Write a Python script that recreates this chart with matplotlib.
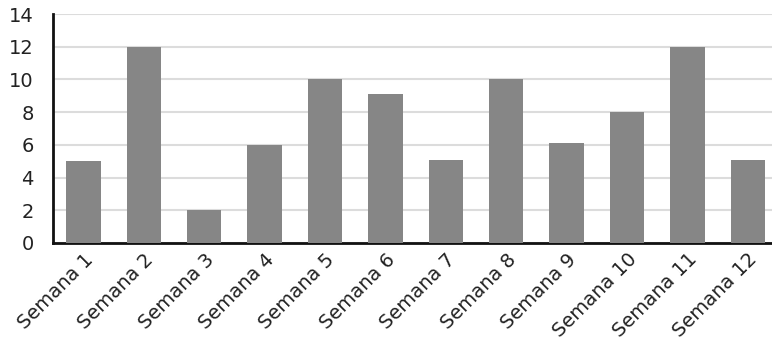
import numpy as np
import matplotlib.pyplot as plt

semanas = ["Semana %d" % i for i in range(1, 13)]
valores = [5, 12, 2, 6, 10, 9.1, 5.1, 10, 6.1, 8, 12, 5.1]

fig = plt.figure(figsize=(7.72, 3.45), dpi=100)
ax = fig.add_axes([0.069, 0.296, 0.931, 0.663])

x = np.arange(len(semanas))
ax.bar(x, valores, width=0.57, color="#868686", zorder=3)

ax.set_ylim(0, 14)
ax.set_yticks(range(0, 15, 2))
ax.set_xlim(-0.5, 11.4)
ax.set_xticks(x)
ax.set_xticklabels(semanas, rotation=45, ha="right", rotation_mode="anchor",
                   fontsize=14, color="#222222")
ax.tick_params(axis="y", labelsize=14, labelcolor="#222222", length=0, pad=14)
ax.tick_params(axis="x", length=0, pad=5)

ax.yaxis.grid(True, color="#dcdcdc", linewidth=1.5, zorder=0)
ax.set_axisbelow(True)
for side in ("top", "right"):
    ax.spines[side].set_visible(False)
for side in ("left", "bottom"):
    ax.spines[side].set_linewidth(2)
    ax.spines[side].set_color("#111111")

fig.savefig("out.png", dpi=100)
